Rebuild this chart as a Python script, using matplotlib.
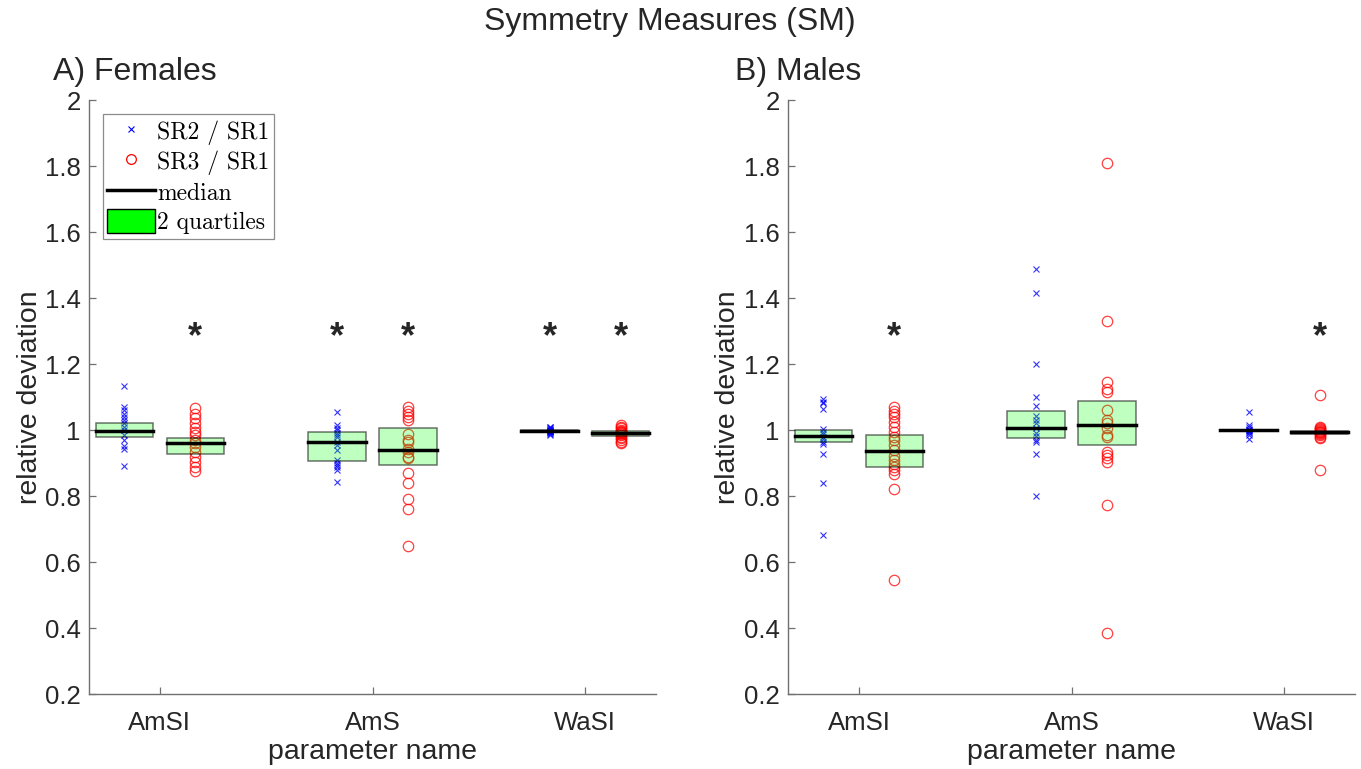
import numpy as np
import matplotlib.pyplot as plt
from matplotlib.lines import Line2D
from matplotlib.patches import Patch, Rectangle

plt.rcParams['font.family'] = ['Liberation Sans', 'DejaVu Sans']

categories = ['AmSI', 'AmS', 'WaSI']

# A) females, points per category and ratio
fem_amsi_sr2 = [1.133, 1.071, 1.061, 1.05, 1.04, 1.03, 1.02, 1.01, 1.0, 0.985, 0.97, 0.952, 0.944, 0.891]
fem_amsi_sr3 = [1.066, 1.05, 1.035, 1.02, 1.005, 0.995, 0.985, 0.97, 0.96, 0.95, 0.934, 0.919, 0.904, 0.889, 0.876]
fem_ams_sr2 = [1.054, 1.015, 1.005, 1.0, 0.992, 0.985, 0.978, 0.965, 0.955, 0.941, 0.909, 0.901, 0.894, 0.887, 0.879, 0.843]
fem_ams_sr3 = [1.069, 1.059, 1.05, 1.04, 1.03, 0.988, 0.97, 0.965, 0.944, 0.934, 0.919, 0.914, 0.871, 0.838, 0.79, 0.76, 0.65]
fem_wasi_sr2 = [1.01, 1.008, 1.005, 1.003, 1.0, 1.0, 0.998, 0.997, 0.996, 0.995, 0.993, 0.99, 0.988, 0.985]
fem_wasi_sr3 = [1.015, 1.01, 1.005, 1.0, 0.997, 0.995, 0.993, 0.99, 0.988, 0.985, 0.98, 0.975, 0.97, 0.965, 0.96]

# B) males
male_amsi_sr2 = [1.093, 1.086, 1.081, 1.063, 1.002, 0.995, 0.988, 0.98, 0.972, 0.965, 0.958, 0.927, 0.841, 0.681]
male_amsi_sr3 = [1.069, 1.059, 1.05, 1.038, 1.025, 1.01, 0.995, 0.98, 0.97, 0.955, 0.94, 0.921, 0.909, 0.897,
                 0.887, 0.879, 0.866, 0.822, 0.545]
male_ams_sr2 = [1.487, 1.414, 1.2, 1.101, 1.073, 1.043, 1.03, 1.02, 1.005, 0.992, 0.982, 0.97, 0.965, 0.927, 0.8]
male_ams_sr3 = [1.809, 1.331, 1.146, 1.123, 1.116, 1.061, 1.03, 1.02, 1.005, 0.985, 0.978, 0.934, 0.924, 0.914,
                0.904, 0.773, 0.384]
male_wasi_sr2 = [1.056, 1.015, 1.008, 1.003, 1.0, 1.0, 0.998, 0.995, 0.99, 0.985, 0.972]
male_wasi_sr3 = [1.106, 1.01, 1.005, 1.002, 1.0, 0.998, 0.995, 0.993, 0.99, 0.988, 0.985, 0.98, 0.975, 0.879]

# medians and quartiles as drawn
fem_med_sr2 = [0.997, 0.963, 0.997]
fem_med_sr3 = [0.96, 0.94, 0.99]
fem_q_sr2 = [(0.978, 1.022), (0.906, 0.995), (0.994, 1.0)]
fem_q_sr3 = [(0.927, 0.977), (0.893, 1.005), (0.983, 0.996)]
male_med_sr2 = [0.982, 1.007, 0.999]
male_med_sr3 = [0.937, 1.014, 0.993]
male_q_sr2 = [(0.965, 1.0), (0.975, 1.058), (0.996, 1.001)]
male_q_sr3 = [(0.887, 0.984), (0.954, 1.088), (0.988, 0.997)]

# significance stars
fem_star_sr2 = [False, True, True]
fem_star_sr3 = [True, True, True]
male_star_sr2 = [False, False, False]
male_star_sr3 = [True, False, True]
star_y = 1.28

TXT = '#262626'
AX = '#707070'
OFF = 1 / 6      # shift of the two ratios around the category
BW = 0.27        # box width


def draw_panel(ax, pts2, pts3, med2, med3, q2, q3, st2, st3):
    for i in range(3):
        xc = i + 1
        ax.plot(np.full(len(pts2[i]), xc - OFF), pts2[i], 'x', color='blue', ms=5, mew=0.8,
                alpha=0.8, zorder=2)
        ax.plot(np.full(len(pts3[i]), xc + OFF), pts3[i], 'o', mfc='none', mec='red', ms=7.5,
                mew=0.9, alpha=0.75, zorder=2)
        for dx, q, m, st in ((-OFF, q2[i], med2[i], st2[i]), (OFF, q3[i], med3[i], st3[i])):
            x0 = xc + dx - BW / 2
            ax.add_patch(Rectangle((x0, q[0]), BW, q[1] - q[0], facecolor=(0, 1, 0, 0.25),
                                   edgecolor=(0, 0, 0, 0.55), lw=1.1, zorder=3))
            ax.plot([x0, x0 + BW], [m, m], color='black', lw=2.5, zorder=4)
            if st:
                ax.text(xc + dx, star_y, '*', ha='center', va='center', fontsize=26,
                        fontweight='bold', color=TXT)
    ax.set_xlim(2 / 3, 10 / 3)
    ax.set_ylim(0.2, 2)
    ax.set_xticks([1, 2, 3])
    ax.set_xticklabels(categories)
    ax.set_yticks(np.arange(0.2, 2.01, 0.2))
    ax.set_yticklabels(['%g' % round(v, 1) for v in np.arange(0.2, 2.01, 0.2)])
    for s in ('top', 'right'):
        ax.spines[s].set_visible(False)
    for s in ('left', 'bottom'):
        ax.spines[s].set_color(AX)
        ax.spines[s].set_linewidth(1.0)
    ax.tick_params(direction='in', length=5, width=0.9, color=AX, labelsize=18.5,
                   labelcolor=TXT)
    ax.tick_params(axis='y', pad=6)
    ax.tick_params(axis='x', pad=12)
    ax.set_xlabel('parameter name', fontsize=20.5, color=TXT, labelpad=3)


fig = plt.figure(figsize=(13.61, 7.69), dpi=100)
ax1 = fig.add_axes([0.0654, 0.0975, 0.4166, 0.7724])
ax2 = fig.add_axes([0.579, 0.0975, 0.4166, 0.7724])

draw_panel(ax1, [fem_amsi_sr2, fem_ams_sr2, fem_wasi_sr2], [fem_amsi_sr3, fem_ams_sr3, fem_wasi_sr3],
           fem_med_sr2, fem_med_sr3, fem_q_sr2, fem_q_sr3, fem_star_sr2, fem_star_sr3)
draw_panel(ax2, [male_amsi_sr2, male_ams_sr2, male_wasi_sr2], [male_amsi_sr3, male_ams_sr3, male_wasi_sr3],
           male_med_sr2, male_med_sr3, male_q_sr2, male_q_sr3, male_star_sr2, male_star_sr3)

# legend in the first panel
handles = [
    Line2D([], [], ls='none', marker='x', color='blue', ms=5, mew=0.8),
    Line2D([], [], ls='none', marker='o', mfc='none', mec='red', ms=7, mew=0.9),
    Line2D([], [], color='black', lw=2.5),
    Patch(facecolor=(0, 1, 0), edgecolor='black', lw=1.0),
]
labels = ['SR2 / SR1', 'SR3 / SR1', 'median', '2 quartiles']
leg = ax1.legend(handles, labels, loc='upper left', bbox_to_anchor=(0.024, 0.976), borderaxespad=0,
                 fancybox=False, framealpha=1, edgecolor='#8c8c8c', handlelength=2.0, handleheight=1.15,
                 handletextpad=0.1, labelspacing=0.2, borderpad=0.2,
                 prop={'family': 'cmr10', 'size': 17})
leg.get_frame().set_linewidth(0.9)

fig.text(0.492, 0.971, 'Symmetry Measures (SM)', ha='center', va='center', fontsize=23, color=TXT)
fig.text(0.039, 0.896, 'A) Females', ha='left', va='baseline', fontsize=23, color=TXT)
fig.text(0.540, 0.896, 'B) Males', ha='left', va='baseline', fontsize=23, color=TXT)
fig.text(0.022, 0.484, 'relative deviation', ha='center', va='center', rotation=90, fontsize=20.5, color=TXT)
fig.text(0.535, 0.484, 'relative deviation', ha='center', va='center', rotation=90, fontsize=20.5, color=TXT)

fig.savefig('out.png', dpi=100)
